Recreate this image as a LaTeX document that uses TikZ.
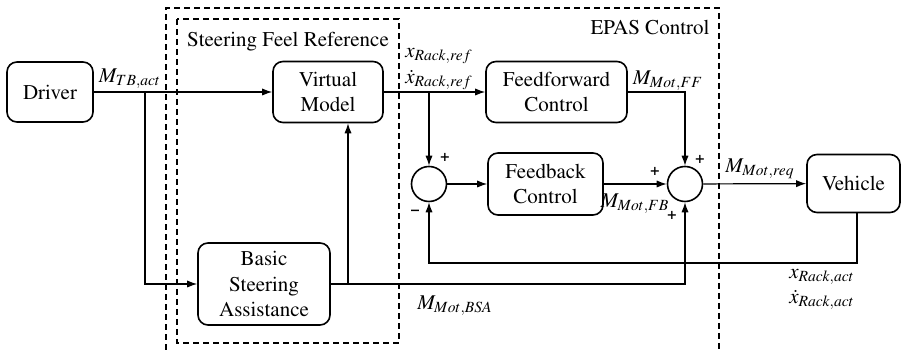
\documentclass[tikz,border=0pt]{standalone}
\usepackage[T1]{fontenc}
\usepackage{mathptmx}
\usetikzlibrary{positioning, arrows, arrows.meta}

\tikzset{
	block/.style={draw, rounded corners=5pt, line width=0.8pt, align=center, inner sep=1pt},
	sum/.style={draw, circle, line width=0.8pt, minimum size=17.5pt, inner sep=0pt},
	frame/.style={line width=0.7pt, dash pattern=on 3pt off 2pt},
	sig/.style={line width=0.6pt},
	sign/.style={font=\fontsize{8}{9}\selectfont\bfseries, inner sep=0pt},
	lbl/.style={inner sep=0pt}
}

\begin{document}
\begin{tikzpicture}[x=0.5pt,y=-0.5pt,>={Latex[length=5pt,width=3.6pt]},font=\fontsize{10.5}{12.8}\selectfont]
	\useasboundingbox (0,0) rectangle (901,351);
	
	% frames
	\draw[frame] (166,360) |- (719,8) -- (719,360);
	\draw[frame] (177,19) rectangle (399,343);
	\node[lbl] (t_sfr) at (288,42) {Steering Feel Reference};
	\node[lbl] (t_epas) at (650,27) {EPAS Control};
	
	% blocks
	\node[block, minimum width=43pt, minimum height=30pt] (drv) at (50,92) {Driver};
	\node[block, minimum width=55pt, minimum height=30.5pt] (vm) at (328,92) {Virtual\\Model};
	\node[block, minimum width=70.5pt, minimum height=30.5pt] (ff) at (556.5,92) {Feedforward\\Control};
	\node[block, minimum width=57.5pt, minimum height=31pt] (fb) at (545.5,184) {Feedback\\Control};
	\node[block, minimum width=46.5pt, minimum height=29pt] (veh) at (853.5,183.5) {Vehicle};
	\node[block, minimum width=66pt, minimum height=41pt] (bsa) at (264,284) {Basic\\Steering\\Assistance};
	\node[sum] (sum_1) at (429,184) {};
	\node[sum] (sum_2) at (685,184) {};
	
	% branch points
	\coordinate (br_drv) at (145,92);
	\coordinate (br_bsa) at (348,284);
	\coordinate (br_ref) at (429,92);
	\coordinate (fbk) at (429,263);
	
	% signals
	\draw[sig,->] (drv) -- (vm);
	\draw[sig,->] (br_drv) |- (bsa.west);
	\draw[sig,->] (br_bsa) -- (br_bsa |- vm.south);
	\draw[sig,->] (bsa.east) -| (sum_2.south);
	\draw[sig,->] (vm) -- (ff);
	\draw[sig,->] (br_ref) -- (sum_1.north);
	\draw[sig,->] (sum_1) -- (fb);
	\draw[sig,->] (fb) -- (sum_2);
	\draw[sig,->] (ff.east) -| (sum_2.north);
	\draw[sig,->] (sum_2) -- (veh);
	\draw[sig,->] ([xshift=1.75pt]veh.south) |- (fbk) -- (sum_1.south);
	
	% labels
	\node[lbl] (l_tb) at (130,79) {$M_{TB,act}$};
	\node[lbl] (l_xref) at (439,56) {$x_{Rack,ref}$};
	\node[lbl] (l_vref) at (439,80) {$\dot{x}_{Rack,ref}$};
	\node[lbl] (l_ff) at (668,81) {$M_{Mot,FF}$};
	\node[lbl] (l_req) at (760,169) {$M_{Mot,req}$};
	\node[lbl] (l_fb) at (635,204) {$M_{Mot,FB}$};
	\node[lbl] (l_bsa) at (455,306) {$M_{Mot,BSA}$};
	\node[lbl] (l_xact) at (822,277) {$x_{Rack,act}$};
	\node[lbl] (l_vact) at (822,300) {$\dot{x}_{Rack,act}$};
	
	% signs
	\node[sign] (s_1a) at (445,157) {+};
	\node[sign] (s_1b) at (415,212) {--};
	\node[sign] (s_2a) at (655,171) {+};
	\node[sign] (s_2b) at (700,159) {+};
	\node[sign] (s_2c) at (672,215) {+};
\end{tikzpicture}
\end{document}
